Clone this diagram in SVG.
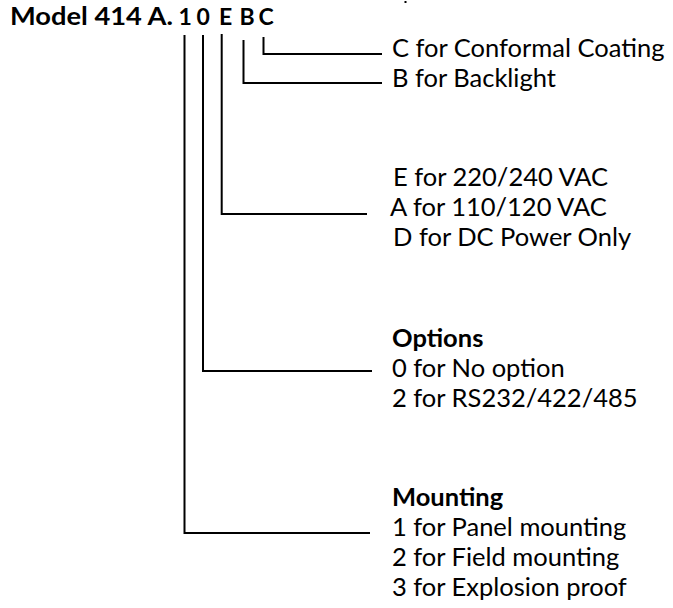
<svg xmlns="http://www.w3.org/2000/svg" width="673" height="608" viewBox="0 0 673 608">
<style>
text{font-family:Lato,"Open Sans","Liberation Sans",sans-serif;font-size:25.5px;fill:#000}
.b{font-weight:bold}
.c{font-size:23px}
.ln{fill:none;stroke:#000;stroke-width:2}
</style>
<rect width="673" height="608" fill="#fff"/>
<g id="title"><text class="b" x="10" y="25" textLength="163" lengthAdjust="spacingAndGlyphs">Model 414 A.</text><text class="b c" y="25"><tspan x="178.5">1</tspan><tspan x="196.5">0</tspan><tspan x="219">E</tspan><tspan x="239.5">B</tspan><tspan x="258.5">C</tspan></text></g>
<g id="connectors">
<path class="ln" d="M263.5 37V54H382"/>
<path class="ln" d="M243.5 40V83H382"/>
<path class="ln" d="M221.7 34V214H367"/>
<path class="ln" d="M203 35V371H372"/>
<path class="ln" d="M184.5 35V533H370"/>
<path class="ln" d="M404.5 2H406.5" stroke-width="1"/>
</g>
<g id="coating"><text x="392" y="57">C for Conformal Coating</text></g>
<g id="backlight"><text x="392" y="87">B for Backlight</text></g>
<g id="power"><text x="393" y="186">E for 220/240 VAC</text><text x="390" y="216">A for 110/120 VAC</text><text x="393" y="246">D for DC Power Only</text></g>
<g id="options"><text class="b" x="392" y="347">Options</text><text x="392" y="377">0 for No option</text><text x="392" y="407">2 for RS232/422/485</text></g>
<g id="mounting"><text class="b" x="392" y="506">Mounting</text><text x="392" y="536">1 for Panel mounting</text><text x="392" y="566">2 for Field mounting</text><text x="392" y="596">3 for Explosion proof</text></g>
</svg>
